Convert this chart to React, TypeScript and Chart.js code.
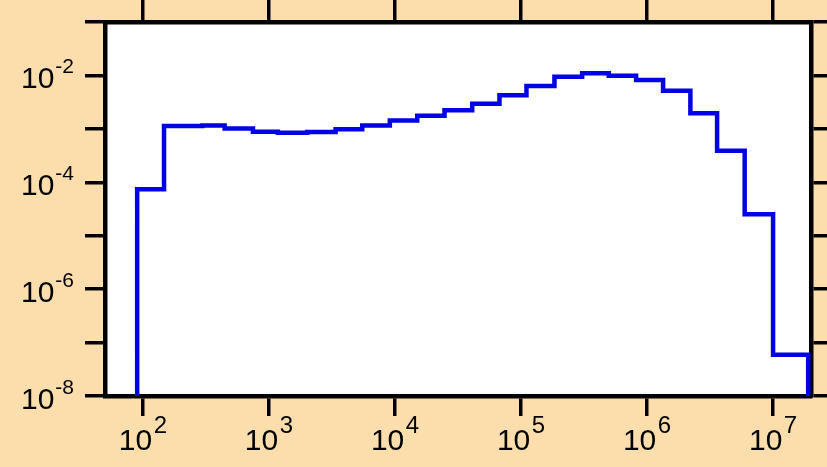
import React, { useEffect, useRef } from "react";
import { Chart, registerables } from "chart.js";

Chart.register(...registerables);

// Bin edges (x, log-spaced) and bin heights (y)
const binEdges = [
  90, 147, 296, 445, 746, 1177, 2014, 3377, 5499, 9101, 15010, 24715, 40989,
  67475, 110460, 184200, 305500, 496600, 819000, 1341000, 2208000, 3596000,
  5953000, 10000000, 19000000,
];
const binValues = [
  7.4e-5, 1.13e-3, 1.16e-3, 1.02e-3, 8.8e-4, 8.5e-4, 8.7e-4, 9.8e-4, 1.16e-3,
  1.44e-3, 1.76e-3, 2.22e-3, 2.96e-3, 4.25e-3, 6.35e-3, 9.4e-3, 1.1e-2, 9.9e-3,
  8.2e-3, 5.19e-3, 1.95e-3, 3.88e-4, 2.51e-5, 5.9e-8,
];
const xTickExponents = [2, 3, 4, 5, 6, 7];
const yTickExponents = [-8, -7, -6, -5, -4, -3, -2, -1];
const yLabelExponents = [-8, -6, -4, -2];
const xMin = 50;
const xMax = 2e7;
const yMin = 1e-8;
const yMax = 1e-1;

const BG = "#FCDEAC";
const FONT = '"Liberation Sans", Arial, sans-serif';

export default function App() {
  const canvasRef = useRef<HTMLCanvasElement | null>(null);

  useEffect(() => {
    const canvas = canvasRef.current;
    if (!canvas) return;

    const points: { x: number; y: number }[] = [];
    points.push({ x: binEdges[0], y: yMin });
    binValues.forEach((v, i) => points.push({ x: binEdges[i], y: v }));
    points.push({ x: binEdges[binEdges.length - 1], y: yMin });

    const xTicks = xTickExponents.map((e) => Math.pow(10, e));
    const yTicks = yTickExponents.map((e) => Math.pow(10, e));

    const axisCommon = (tickLength: number) => ({
      type: "logarithmic" as const,
      grid: {
        display: true,
        drawOnChartArea: false,
        drawTicks: true,
        tickLength,
        lineWidth: 3.5,
        color: "#000",
      },
      border: { display: true, width: 4.5, color: "#000" },
      ticks: { display: false },
    });

    const bgPlugin = {
      id: "bg",
      beforeDraw(chart: any) {
        const { ctx, chartArea } = chart;
        ctx.save();
        ctx.fillStyle = BG;
        ctx.fillRect(0, 0, chart.width, chart.height);
        ctx.fillStyle = "#fff";
        ctx.fillRect(
          chartArea.left,
          chartArea.top,
          chartArea.right - chartArea.left,
          chartArea.bottom - chartArea.top
        );
        ctx.restore();
      },
    };

    const labelPlugin = {
      id: "powLabels",
      afterDraw(chart: any) {
        const { ctx } = chart;
        const xs = chart.scales.x;
        const ys = chart.scales.y;
        ctx.save();
        ctx.fillStyle = "#000";
        ctx.textBaseline = "alphabetic";
        // x labels
        xTickExponents.forEach((e) => {
          const px = xs.getPixelForValue(Math.pow(10, e));
          ctx.font = `30px ${FONT}`;
          const wBase = ctx.measureText("10").width;
          ctx.font = `24px ${FONT}`;
          const sup = String(e);
          const wSup = ctx.measureText(sup).width;
          const total = wBase + 1.5 + wSup;
          const left = px - total / 2;
          const baseY = 450;
          ctx.font = `30px ${FONT}`;
          ctx.textAlign = "left";
          ctx.fillText("10", left, baseY);
          ctx.font = `24px ${FONT}`;
          ctx.fillText(sup, left + wBase + 1.5, baseY - 17);
        });
        // y labels
        yLabelExponents.forEach((e) => {
          const py = ys.getPixelForValue(Math.pow(10, e));
          const sup = "-" + String(-e);
          ctx.font = `21px ${FONT}`;
          const wSup = ctx.measureText(sup).width;
          ctx.font = `30px ${FONT}`;
          const wBase = ctx.measureText("10").width;
          const right = 74;
          const left = right - wSup - 1 - wBase;
          const baseY = py + 12.5;
          ctx.textAlign = "left";
          ctx.fillText("10", left, baseY);
          ctx.font = `21px ${FONT}`;
          ctx.fillText(sup, left + wBase + 1, baseY - 15);
        });
        ctx.restore();
      },
    };

    const chart = new Chart(canvas, {
      type: "line",
      data: {
        datasets: [
          {
            data: points,
            stepped: true,
            borderColor: "#0000E6",
            borderWidth: 4.5,
            pointRadius: 0,
            fill: false,
            borderJoinStyle: "miter",
            borderCapStyle: "butt",
          } as any,
        ],
      },
      options: {
        animation: false,
        responsive: false,
        devicePixelRatio: 1,
        layout: { padding: { left: 85, right: 0, top: 0, bottom: 51 } },
        plugins: { legend: { display: false }, tooltip: { enabled: false } },
        scales: {
          x: {
            ...axisCommon(20),
            position: "bottom",
            min: xMin,
            max: xMax,
            afterBuildTicks: (s: any) => {
              s.ticks = xTicks.map((v) => ({ value: v }));
            },
          },
          x2: {
            ...axisCommon(22),
            position: "top",
            min: xMin,
            max: xMax,
            afterBuildTicks: (s: any) => {
              s.ticks = xTicks.map((v) => ({ value: v }));
            },
          },
          y: {
            ...axisCommon(20),
            position: "left",
            min: yMin,
            max: yMax,
            afterBuildTicks: (s: any) => {
              s.ticks = yTicks.map((v) => ({ value: v }));
            },
          },
          y2: {
            ...axisCommon(16),
            position: "right",
            min: yMin,
            max: yMax,
            afterBuildTicks: (s: any) => {
              s.ticks = yTicks.map((v) => ({ value: v }));
            },
          },
        } as any,
      },
      plugins: [bgPlugin, labelPlugin],
    });

    return () => chart.destroy();
  }, []);

  return (
    <div
      style={{
        position: "absolute",
        left: 0,
        top: 0,
        width: 827,
        height: 467,
        background: BG,
      }}
    >
      <canvas
        ref={canvasRef}
        width={827}
        height={467}
        style={{ display: "block", width: 827, height: 467 }}
      />
    </div>
  );
}
